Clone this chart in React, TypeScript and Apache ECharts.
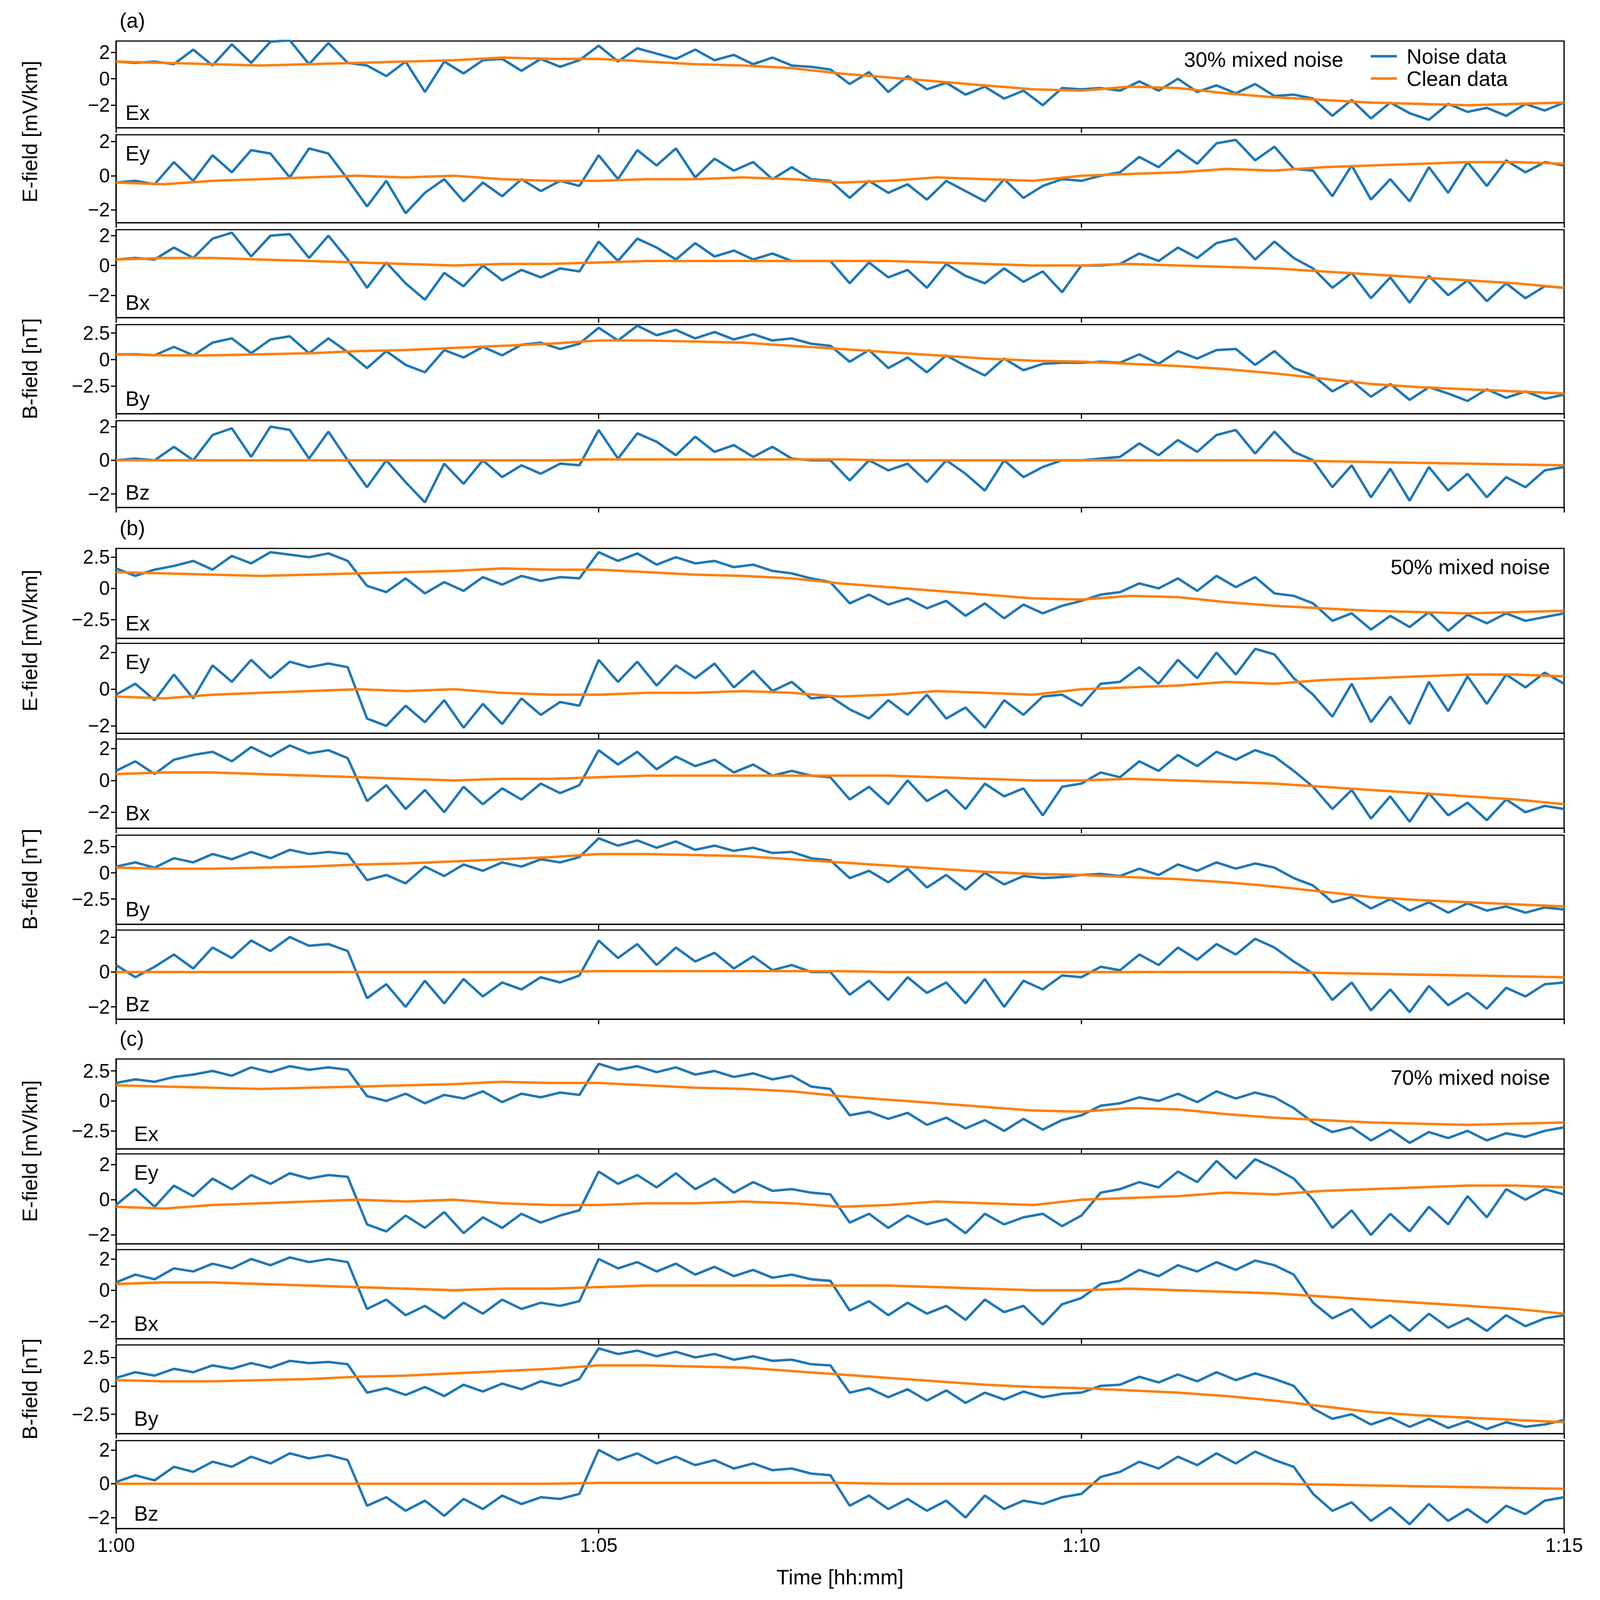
import { useEffect, useRef } from 'react';
import * as echarts from 'echarts';

const BLUE = '#1f77b4';
const ORANGE = '#ff7f0e';
const FONT = 'Liberation Sans';

// clean signal, one point every 30 s from 1:00 to 1:15
const cleanEx = [1.3,1.2,1.1,1.0,1.1,1.2,1.3,1.4,1.6,1.5,1.5,1.3,1.1,1.0,0.8,0.4,0.1,-0.2,-0.5,-0.8,-0.9,-0.6,-0.7,-1.1,-1.4,-1.6,-1.8,-1.9,-2.0,-1.9,-1.8];
const cleanEy = [-0.4,-0.5,-0.3,-0.2,-0.1,0.0,-0.1,0.0,-0.2,-0.3,-0.3,-0.2,-0.2,-0.1,-0.2,-0.4,-0.3,-0.1,-0.2,-0.3,0.0,0.1,0.2,0.4,0.3,0.5,0.6,0.7,0.8,0.8,0.7];
const cleanBx = [0.4,0.5,0.5,0.4,0.3,0.2,0.1,0.0,0.1,0.1,0.2,0.3,0.3,0.3,0.3,0.3,0.3,0.2,0.1,0.0,0.0,0.1,0.0,-0.1,-0.2,-0.4,-0.6,-0.8,-1.0,-1.2,-1.5];
const cleanBy = [0.5,0.4,0.4,0.5,0.6,0.8,0.9,1.1,1.3,1.5,1.8,1.8,1.7,1.6,1.3,1.0,0.7,0.4,0.1,-0.1,-0.2,-0.4,-0.6,-0.9,-1.3,-1.8,-2.3,-2.6,-2.8,-3.0,-3.2];
const cleanBz = [0.0,0.0,0.0,0.0,0.0,0.0,0.0,0.0,0.0,0.0,0.05,0.05,0.05,0.05,0.05,0.05,0.0,0.0,0.0,0.0,0.0,0.0,0.0,0.0,0.0,-0.05,-0.1,-0.15,-0.2,-0.25,-0.3];

// noisy signal, one point every 12 s
const noiseA_Ex = [1.3,1.2,1.3, 1.1,2.2,1.0,2.6,1.2,2.8,2.9,1.1, 2.7,1.2, 1.0,0.2,1.3,-1.0,1.3,0.4,1.4,1.5,0.6,1.5,0.9,1.4, 2.5,1.3,2.3,1.9,1.5,2.2,1.4,1.8,1.1,1.6,1.0, 0.9,0.7, -0.4,0.5,-1.0,0.2,-0.8,-0.3,-1.2,-0.6,-1.5,-0.9,-2.0,-0.7,-0.8, -0.7,-0.9, -0.2,-0.9,0.0,-1.0,-0.5,-1.1,-0.4,-1.3,-1.2, -1.5, -2.8,-1.6,-3.0,-1.8,-2.6,-3.1,-1.9,-2.5,-2.2,-2.8,-1.9,-2.4,-1.8];
const noiseA_Ey = [-0.4,-0.3,-0.5, 0.8,-0.3,1.2,0.2,1.5,1.3,-0.1,1.6, 1.3,-0.2, -1.8,-0.3,-2.2,-1.0,-0.2,-1.5,-0.4,-1.2,-0.2,-0.9,-0.3,-0.6, 1.2,-0.2,1.5,0.6,1.6,-0.1,1.0,0.3,0.8,-0.2,0.5, -0.2,-0.3, -1.3,-0.3,-1.0,-0.5,-1.4,-0.3,-0.9,-1.5,-0.2,-1.3,-0.6,-0.2,-0.3, 0.0,0.2, 1.1,0.5,1.5,0.7,1.9,2.1,0.9,1.7,0.4, 0.3, -1.2,0.6,-1.4,-0.2,-1.5,0.5,-1.0,0.8,-0.6,0.9,0.2,0.8,0.6];
const noiseA_Bx = [0.4,0.5,0.4, 1.2,0.5,1.8,2.2,0.6,2.0,2.1,0.5, 2.0,0.4, -1.5,0.2,-1.2,-2.3,-0.5,-1.4,0.0,-1.0,-0.3,-0.8,-0.2,-0.4, 1.6,0.3,1.8,1.2,0.4,1.5,0.6,1.0,0.4,0.8,0.3, 0.3,0.3, -1.2,0.2,-0.8,-0.3,-1.5,0.1,-0.7,-1.2,-0.2,-1.1,-0.4,-1.8,0.0, 0.0,0.1, 0.8,0.3,1.2,0.5,1.5,1.8,0.4,1.6,0.5, -0.2, -1.5,-0.5,-2.2,-0.8,-2.5,-0.7,-2.0,-1.0,-2.4,-1.2,-2.2,-1.4,-1.5];
const noiseA_By = [0.5,0.5,0.4, 1.2,0.4,1.6,2.0,0.6,1.9,2.2,0.6, 2.0,0.7, -0.8,0.8,-0.5,-1.2,0.9,0.2,1.2,0.4,1.4,1.6,1.0,1.5, 3.0,1.8,3.2,2.3,2.8,2.0,2.6,1.9,2.4,1.8,2.0, 1.5,1.3, -0.2,0.9,-0.8,0.2,-1.2,0.4,-0.6,-1.5,0.1,-1.0,-0.4,-0.3,-0.3, -0.2,-0.3, 0.5,-0.4,0.8,0.1,0.9,1.0,-0.5,0.8,-0.8, -1.5, -3.0,-2.0,-3.5,-2.3,-3.8,-2.6,-3.2,-3.9,-2.8,-3.6,-3.0,-3.7,-3.3];
const noiseA_Bz = [0.0,0.1,0.0, 0.8,0.0,1.5,1.9,0.2,2.0,1.8,0.1, 1.7,0.0, -1.6,0.0,-1.3,-2.5,-0.2,-1.4,0.0,-1.0,-0.3,-0.8,-0.2,-0.3, 1.8,0.1,1.6,1.1,0.3,1.4,0.5,0.9,0.2,0.8,0.1, 0.0,0.0, -1.2,0.0,-0.6,-0.2,-1.3,0.0,-0.8,-1.8,0.0,-1.0,-0.4,0.0,0.0, 0.1,0.2, 1.0,0.3,1.2,0.5,1.5,1.8,0.4,1.7,0.5, 0.0, -1.6,-0.3,-2.2,-0.5,-2.4,-0.4,-1.8,-0.8,-2.2,-1.0,-1.6,-0.6,-0.4];

const noiseB_Ex = [1.6,1.0,1.5, 1.8,2.2,1.5,2.6,2.0,2.9,2.7,2.5, 2.8,2.2, 0.2,-0.3,0.8,-0.4,0.5,-0.2,0.9,0.3,1.0,0.6,0.9,0.8, 2.9,2.2,2.8,1.9,2.5,2.0,2.2,1.7,1.9,1.4,1.2, 0.8,0.5, -1.2,-0.5,-1.3,-0.8,-1.6,-1.0,-2.2,-1.2,-2.4,-1.3,-2.0,-1.4,-1.0, -0.5,-0.3, 0.4,0.0,0.8,-0.2,1.0,0.1,0.9,-0.4,-0.6, -1.2, -2.6,-2.0,-3.3,-2.2,-3.1,-1.9,-3.4,-2.1,-2.8,-2.0,-2.6,-2.3,-2.0];
const noiseB_Ey = [-0.3,0.3,-0.6, 0.8,-0.5,1.3,0.4,1.6,0.6,1.5,1.2, 1.4,1.2, -1.6,-2.0,-0.9,-1.8,-0.6,-2.1,-0.8,-1.9,-0.5,-1.4,-0.7,-0.9, 1.6,0.4,1.5,0.2,1.3,0.6,1.4,0.1,1.0,-0.1,0.4, -0.5,-0.4, -1.1,-1.6,-0.6,-1.4,-0.3,-1.6,-1.0,-2.1,-0.6,-1.4,-0.4,-0.3,-0.9, 0.3,0.4, 1.2,0.3,1.6,0.6,2.0,0.8,2.2,1.9,0.6, -0.3, -1.5,0.3,-1.8,-0.4,-1.9,0.4,-1.2,0.7,-0.8,0.8,0.1,0.9,0.3];
const noiseB_Bx = [0.6,1.2,0.4, 1.3,1.6,1.8,1.2,2.1,1.5,2.2,1.7, 1.9,1.4, -1.3,-0.3,-1.8,-0.6,-2.0,-0.4,-1.5,-0.5,-1.2,-0.2,-0.8,-0.3, 1.9,1.0,1.8,0.7,1.5,0.9,1.3,0.5,1.0,0.3,0.6, 0.3,0.2, -1.2,-0.4,-1.5,0.0,-1.3,-0.6,-1.8,-0.2,-1.0,-0.5,-2.2,-0.4,-0.2, 0.5,0.2, 1.2,0.6,1.6,0.9,1.8,1.3,1.9,1.5,0.6, -0.4, -1.8,-0.6,-2.4,-1.0,-2.6,-0.8,-2.2,-1.4,-2.5,-1.2,-2.0,-1.6,-1.8];
const noiseB_By = [0.6,1.0,0.5, 1.4,1.0,1.8,1.3,2.0,1.4,2.2,1.8, 2.0,1.8, -0.7,-0.2,-1.0,0.6,-0.3,0.8,0.2,1.0,0.6,1.3,1.0,1.5, 3.3,2.6,3.1,2.4,3.0,2.2,2.6,2.1,2.4,1.9,2.0, 1.4,1.2, -0.5,0.2,-0.9,0.4,-1.4,-0.2,-1.6,0.0,-1.1,-0.3,-0.5,-0.4,-0.2, -0.1,-0.3, 0.4,-0.2,0.8,0.2,1.0,0.4,0.9,0.5,-0.5, -1.2, -2.8,-2.3,-3.4,-2.5,-3.6,-2.8,-3.8,-2.9,-3.6,-3.2,-3.8,-3.3,-3.5];
const noiseB_Bz = [0.4,-0.3,0.3, 1.0,0.2,1.4,0.8,1.8,1.2,2.0,1.5, 1.6,1.2, -1.5,-0.7,-2.0,-0.5,-1.8,-0.4,-1.4,-0.6,-1.0,-0.3,-0.6,-0.2, 1.8,0.8,1.6,0.4,1.4,0.6,1.1,0.2,0.9,0.1,0.4, 0.0,0.0, -1.3,-0.5,-1.6,-0.3,-1.2,-0.6,-1.8,-0.4,-2.0,-0.5,-1.0,-0.2,-0.3, 0.3,0.1, 1.0,0.4,1.4,0.7,1.6,1.0,1.9,1.4,0.6, -0.1, -1.6,-0.6,-2.2,-1.0,-2.3,-0.8,-1.9,-1.2,-2.1,-0.9,-1.4,-0.7,-0.6];

const noiseC_Ex = [1.5,1.8,1.6, 2.0,2.2,2.5,2.1,2.8,2.4,2.9,2.6, 2.8,2.6, 0.4,0.0,0.6,-0.2,0.5,0.2,0.8,-0.1,0.6,0.3,0.7,0.5, 3.1,2.6,2.9,2.4,2.8,2.2,2.5,2.0,2.3,1.8,2.1, 1.2,1.0, -1.2,-0.9,-1.5,-1.0,-2.0,-1.4,-2.3,-1.6,-2.5,-1.5,-2.4,-1.6,-1.2, -0.4,-0.2, 0.3,0.0,0.6,-0.1,0.8,0.2,0.7,0.3,-0.6, -1.8, -2.6,-2.2,-3.3,-2.4,-3.5,-2.6,-3.1,-2.5,-3.3,-2.7,-3.0,-2.5,-2.2];
const noiseC_Ey = [-0.3,0.6,-0.4, 0.8,0.2,1.2,0.6,1.4,0.9,1.5,1.2, 1.4,1.3, -1.4,-1.8,-0.9,-1.6,-0.7,-1.9,-1.0,-1.6,-0.8,-1.3,-0.9,-0.6, 1.6,0.9,1.4,0.7,1.5,0.6,1.2,0.4,1.0,0.5,0.6, 0.4,0.3, -1.3,-0.8,-1.6,-0.9,-1.4,-1.1,-1.9,-0.8,-1.4,-1.0,-0.8,-1.5,-0.9, 0.4,0.6, 1.0,0.7,1.6,1.0,2.2,1.2,2.3,1.8,1.2, 0.0, -1.6,-0.6,-2.0,-0.8,-1.8,-0.4,-1.4,0.2,-1.0,0.6,0.0,0.6,0.3];
const noiseC_Bx = [0.5,1.0,0.7, 1.4,1.2,1.7,1.4,2.0,1.6,2.1,1.8, 2.0,1.8, -1.2,-0.6,-1.6,-1.0,-1.8,-0.8,-1.5,-0.6,-1.2,-0.8,-1.0,-0.7, 2.0,1.4,1.8,1.2,1.7,1.0,1.5,0.9,1.3,0.8,1.0, 0.7,0.6, -1.3,-0.7,-1.6,-0.8,-1.5,-1.0,-1.9,-0.6,-1.4,-1.0,-2.2,-0.9,-0.5, 0.4,0.6, 1.3,0.9,1.6,1.2,1.8,1.3,1.9,1.6,1.0, -0.8, -1.8,-1.2,-2.4,-1.6,-2.6,-1.5,-2.4,-1.8,-2.6,-1.6,-2.3,-1.8,-1.6];
const noiseC_By = [0.7,1.2,0.9, 1.5,1.2,1.8,1.5,2.0,1.6,2.2,2.0, 2.1,1.9, -0.6,-0.2,-0.8,-0.1,-0.9,0.1,-0.5,0.2,-0.3,0.4,0.0,0.6, 3.3,2.8,3.1,2.6,3.0,2.5,2.8,2.3,2.6,2.2,2.3, 1.9,1.8, -0.6,-0.2,-1.0,-0.3,-1.3,-0.4,-1.5,-0.6,-1.2,-0.5,-1.0,-0.7,-0.6, 0.0,0.1, 0.8,0.3,1.0,0.4,1.2,0.5,1.1,0.6,0.0, -2.0, -2.9,-2.5,-3.4,-2.8,-3.6,-2.9,-3.7,-3.1,-3.8,-3.2,-3.6,-3.4,-3.0];
const noiseC_Bz = [0.1,0.5,0.2, 1.0,0.7,1.3,1.0,1.6,1.2,1.8,1.5, 1.7,1.4, -1.3,-0.8,-1.6,-1.0,-1.9,-0.9,-1.5,-0.7,-1.2,-0.8,-0.9,-0.6, 2.0,1.4,1.8,1.2,1.6,1.1,1.4,0.9,1.2,0.8,0.9, 0.6,0.5, -1.3,-0.7,-1.5,-0.9,-1.6,-1.0,-2.0,-0.7,-1.5,-1.0,-1.2,-0.8,-0.6, 0.4,0.7, 1.3,0.9,1.6,1.1,1.8,1.2,1.9,1.4,1.0, -0.6, -1.6,-1.1,-2.2,-1.4,-2.4,-1.2,-2.2,-1.5,-2.3,-1.3,-1.8,-1.0,-0.8];

const timeTicks = [0, 300, 600, 900];
const timeLabels = ['1:00', '1:05', '1:10', '1:15'];
const channels = ['Ex', 'Ey', 'Bx', 'By', 'Bz'];
const cleanSets = [cleanEx, cleanEy, cleanBx, cleanBy, cleanBz];
const groups = [
  { tag: '(a)', note: '30% mixed noise', noise: [noiseA_Ex, noiseA_Ey, noiseA_Bx, noiseA_By, noiseA_Bz] },
  { tag: '(b)', note: '50% mixed noise', noise: [noiseB_Ex, noiseB_Ey, noiseB_Bx, noiseB_By, noiseB_Bz] },
  { tag: '(c)', note: '70% mixed noise', noise: [noiseC_Ex, noiseC_Ey, noiseC_Bx, noiseC_By, noiseC_Bz] },
];
const yRanges = [
  [[-3.7, 2.85], [-2.75, 2.4], [-3.5, 2.4], [-5.1, 3.3], [-2.8, 2.35]],
  [[-4.0, 3.2], [-2.4, 2.5], [-3.0, 2.6], [-4.9, 3.6], [-2.7, 2.4]],
  [[-4.0, 3.5], [-2.5, 2.6], [-3.1, 2.6], [-4.2, 3.6], [-2.65, 2.55]],
];
const yTicks = [
  [[-2, 0, 2], [-2, 0, 2], [-2, 0, 2], [-2.5, 0, 2.5], [-2, 0, 2]],
  [[-2.5, 0, 2.5], [-2, 0, 2], [-2, 0, 2], [-2.5, 0, 2.5], [-2, 0, 2]],
  [[-2.5, 0, 2.5], [-2, 0, 2], [-2, 0, 2], [-2.5, 0, 2.5], [-2, 0, 2]],
];
// panel extents measured on a 1340x1567 copy of the reference, [top, bottom]
const panelBox = [
  [[40, 125], [132, 218], [225, 311], [318, 405], [412, 497]],
  [[537, 625], [630, 718], [724, 811], [818, 905], [911, 998]],
  [[1037, 1125], [1130, 1218], [1224, 1311], [1317, 1404], [1411, 1497]],
];

const fmt = (v: number) => (v < 0 ? '\u2212' + Math.abs(v) : String(v));

export default function App() {
  const ref = useRef<HTMLDivElement>(null);
  const W = window.innerWidth;
  const H = window.innerHeight;

  useEffect(() => {
    if (!ref.current) return;
    const chart = echarts.init(ref.current, null, { renderer: 'svg' });
    const fx = W / 1340;
    const fy = H / 1567;
    const f = Math.min(fx, fy);
    const px = (d: number) => Math.round(d * fx);
    const py = (d: number) => Math.round(d * fy);
    const left = px(97);
    const right = px(1310);
    const lw = 2.4 * f;
    const fs = 20.5 * f;
    const tfs = 19 * f;
    const bw = 1.2 * f;
    const grid: any[] = [];
    const xAxis: any[] = [];
    const yAxis: any[] = [];
    const series: any[] = [];
    const graphic: any[] = [];
    const txt = { fontFamily: FONT, fontSize: fs, fill: '#000' };

    groups.forEach((g, gi) => {
      channels.forEach((ch, ci) => {
        const k = gi * 5 + ci;
        const [t, b] = panelBox[gi][ci];
        const top = py(t);
        const bottom = py(b);
        const last = k === 14;
        grid.push({ left, width: right - left, top, height: bottom - top, show: true, borderColor: '#000', borderWidth: bw, backgroundColor: 'transparent' });
        xAxis.push({
          type: 'value', gridIndex: k, min: 0, max: 900,
          axisLine: { show: true, onZero: false, lineStyle: { color: '#000', width: bw } },
          axisTick: { show: true, length: 5 * f, customValues: timeTicks, lineStyle: { color: '#000', width: bw } },
          axisLabel: { show: last, customValues: timeTicks, formatter: (v: number) => timeLabels[timeTicks.indexOf(v)] ?? '', fontFamily: FONT, fontSize: tfs, color: '#000', margin: 7 * f },
          splitLine: { show: false },
          name: last ? 'Time [hh:mm]' : '', nameLocation: 'middle', nameGap: 37 * f,
          nameTextStyle: { fontFamily: FONT, fontSize: fs, color: '#000' },
        });
        yAxis.push({
          type: 'value', gridIndex: k, min: yRanges[gi][ci][0], max: yRanges[gi][ci][1],
          axisLine: { show: true, lineStyle: { color: '#000', width: bw } },
          axisTick: { show: true, length: 5 * f, customValues: yTicks[gi][ci], lineStyle: { color: '#000', width: bw } },
          axisLabel: { customValues: yTicks[gi][ci], formatter: fmt, fontFamily: FONT, fontSize: tfs, color: '#000', margin: 6 * f },
          splitLine: { show: false },
        });
        const noise = g.noise[ci];
        series.push({
          name: 'Noise data', type: 'line', xAxisIndex: k, yAxisIndex: k, symbol: 'none',
          lineStyle: { color: BLUE, width: lw }, itemStyle: { color: BLUE },
          data: noise.map((v, i) => [(i * 900) / (noise.length - 1), v]),
        });
        series.push({
          name: 'Clean data', type: 'line', xAxisIndex: k, yAxisIndex: k, symbol: 'none',
          lineStyle: { color: ORANGE, width: lw }, itemStyle: { color: ORANGE },
          data: cleanSets[ci].map((v, i) => [i * 30, v]),
        });
        const lx = left + px(gi === 2 ? 15 : 8);
        const ly = ci === 1 ? top + py(18) : bottom - py(15);
        graphic.push({ type: 'text', x: lx, y: ly, style: { ...txt, text: ch, verticalAlign: 'middle' } });
      });
      const [et] = panelBox[gi][0];
      const [, eb] = panelBox[gi][1];
      const [bt] = panelBox[gi][2];
      const [, bb] = panelBox[gi][4];
      graphic.push({ type: 'text', x: px(25), y: py((et + eb) / 2), rotation: Math.PI / 2, style: { ...txt, text: 'E-field [mV/km]', align: 'center', verticalAlign: 'middle' } });
      graphic.push({ type: 'text', x: px(25), y: py((bt + bb) / 2), rotation: Math.PI / 2, style: { ...txt, text: 'B-field [nT]', align: 'center', verticalAlign: 'middle' } });
      graphic.push({ type: 'text', x: px(100), y: py(et - 20), style: { ...txt, text: g.tag, verticalAlign: 'middle' } });
      const noteRight = gi === 0 ? 1125 : 1298;
      graphic.push({ type: 'text', x: px(noteRight), y: py(et + 18), style: { ...txt, text: g.note, align: 'right', verticalAlign: 'middle' } });
    });

    // legend of panel (a)
    [['Noise data', BLUE, 55], ['Clean data', ORANGE, 77]].forEach(([label, color, y]) => {
      const yy = py(y as number);
      graphic.push({ type: 'line', shape: { x1: px(1148), y1: yy, x2: px(1170), y2: yy }, style: { stroke: color, lineWidth: lw } });
      graphic.push({ type: 'text', x: px(1178), y: yy, style: { ...txt, text: label, verticalAlign: 'middle' } });
    });

    chart.setOption({ animation: false, backgroundColor: '#fff', grid, xAxis, yAxis, series, graphic });
    return () => chart.dispose();
  }, [W, H]);

  return <div ref={ref} style={{ position: 'fixed', left: 0, top: 0, width: W, height: H }} />;
}
